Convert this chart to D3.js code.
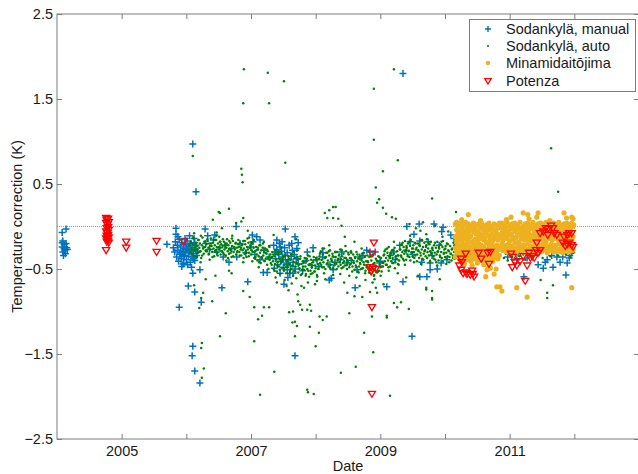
<!DOCTYPE html>
<html>
<head>
<meta charset="utf-8">
<script src="https://cdn.jsdelivr.net/npm/d3@7"></script>
<style>
  body { margin: 0; background: #fff; }
  text { font-family: "Liberation Sans", Arial, Helvetica, sans-serif; fill: #1a1a1a; }
</style>
</head>
<body>
<svg id="chart" width="638" height="474"></svg>
<script>
// Temperature corrections by site, [decimal year, correction (K)]

const sodankylaManual = [
  [2004.08,-0.07],[2004.14,-0.03],[2004.09,-0.17],[2004.11,-0.21],[2004.08,-0.24],[2004.15,-0.25],[2004.12,-0.28],
  [2004.09,-0.30],[2004.16,-0.27],[2004.13,-0.32],[2004.10,-0.34],[2004.14,-0.20],[2004.11,-0.26],[2004.08,-0.19],
  [2005.70,-0.21],[2005.84,-0.02],[2005.84,-0.09],
  [2005.80,-0.25],[2005.82,-0.30],[2005.83,-0.18],[2005.85,-0.36],[2005.86,-0.22],[2005.87,-0.28],[2005.88,-0.41],
  [2005.89,-0.15],[2005.90,-0.33],[2005.91,-0.24],[2005.92,-0.38],[2005.93,-0.19],[2005.94,-0.29],[2005.95,-0.44],
  [2005.96,-0.26],[2005.97,-0.34],[2005.98,-0.21],[2005.99,-0.31],[2006.00,-0.39],[2006.01,-0.17],[2006.02,-0.27],
  [2006.03,-0.35],[2006.04,-0.23],[2006.05,-0.30],[2006.06,-0.42],[2006.07,-0.20],[2006.08,-0.28],[2006.09,-0.36],
  [2006.10,-0.25],[2006.11,-0.32],[2006.12,-0.14],[2006.13,-0.40],[2006.14,-0.27],[2006.15,-0.22],[2006.16,-0.34],
  [2006.17,-0.29],[2005.87,-0.12],[2005.93,-0.47],[2006.02,-0.45],[2006.05,-0.11],[2005.98,-0.14],[2006.08,-0.48],
  [2005.91,-0.31],[2006.00,-0.26],[2005.95,-0.35],[2006.11,-0.38],[2006.13,-0.19],
  [2005.96,-0.43],[2006.10,-0.55],[2006.21,-0.51],[2006.13,-0.77],[2006.03,-0.70],[2006.23,-0.89],[2005.89,-0.95],
  [2006.55,-0.72],[2006.29,-0.03],[2006.33,-0.11],[2006.44,-0.10],[2006.52,-0.25],[2006.57,-0.36],[2006.66,-0.42],
  [2006.77,0.00],[2006.95,-0.65],[2007.02,-0.10],[2007.09,-0.12],[2007.03,-0.18],[2006.78,-0.36],[2007.14,-0.16],
  [2007.14,-0.39],[2007.19,-0.54],[2007.25,-0.54],[2007.40,-0.16],[2007.53,-0.03],[2007.45,-0.24],[2007.42,-0.31],
  [2007.49,-0.39],[2007.56,-0.51],[2007.51,-0.68],[2007.65,-0.55],[2007.68,-0.12],[2007.73,-0.19],
  [2007.68,-1.52],[2006.10,-1.41],[2006.09,-1.52],[2006.13,-1.70],[2006.21,-1.84],[2006.10,0.97],[2006.15,0.41],
  [2007.35,-0.22],[2007.37,-0.30],[2007.38,-0.38],[2007.40,-0.27],[2007.41,-0.45],[2007.43,-0.33],[2007.44,-0.20],
  [2007.46,-0.41],[2007.47,-0.29],[2007.49,-0.36],[2007.50,-0.48],[2007.52,-0.25],[2007.53,-0.34],[2007.55,-0.43],
  [2007.56,-0.31],[2007.58,-0.39],[2007.59,-0.22],[2007.61,-0.46],[2007.62,-0.35],[2007.64,-0.28],[2007.65,-0.42],
  [2007.67,-0.33],[2007.68,-0.50],[2007.70,-0.38],[2007.71,-0.26],[2007.73,-0.44],[2007.36,-0.49],[2007.45,-0.55],
  [2007.60,-0.55],[2007.48,-0.18],[2007.57,-0.60],[2007.63,-0.20],
  [2006.30,-0.20],[2006.36,-0.27],[2006.42,-0.16],[2006.47,-0.30],[2006.60,-0.22],[2006.70,-0.26],[2006.83,-0.20],
  [2006.92,-0.31],[2007.00,-0.24],[2007.06,-0.33],[2007.20,-0.28],[2007.28,-0.36],
  [2007.96,-0.25],[2008.02,-0.39],[2008.11,-0.36],[2007.94,-0.46],[2007.87,-0.30],[2008.21,-0.63],[2008.24,-0.61],
  [2008.22,-0.45],[2008.38,-0.39],[2008.48,-0.43],[2008.27,-0.51],[2008.11,-0.31],[2008.61,-0.72],[2008.64,-0.51],
  [2008.79,-0.28],[2008.84,-0.30],[2008.92,-0.30],[2008.99,-0.43],[2008.73,-0.34],[2009.10,-0.71],[2009.35,-0.65],
  [2009.41,0.00],[2009.60,0.03],[2009.52,-0.09],[2009.61,-0.17],[2009.46,-0.18],[2009.61,-0.59],
  [2009.88,-0.50],[2009.77,-0.43],[2009.23,-0.39],[2009.15,-0.34],[2009.35,1.80],[2009.49,-1.29],
  [2008.40,-0.30],[2008.55,-0.40],[2008.68,-0.36],[2009.00,-0.41],[2009.20,-0.30],[2009.30,-0.22],[2009.40,-0.28],
  [2009.50,-0.33],[2008.30,-0.42],[2008.05,-0.47],[2007.85,-0.40],[2007.80,-0.52],
  [2009.83,0.03],[2009.97,-0.01],[2009.95,-0.06],[2010.09,-0.10],[2010.14,-0.14],[2009.74,-0.18],[2009.91,-0.22],
  [2009.80,-0.34],[2009.64,-0.42],[2009.77,-0.51],[2009.72,-0.59],[2009.94,-0.43],[2010.03,-0.39],
  [2010.91,-0.06],[2010.90,-0.03],[2011.00,-0.28],[2010.97,-0.36],[2011.11,-0.39],[2011.13,-0.31],[2011.27,-0.37],
  [2011.22,-0.59],[2011.52,-0.49],[2011.58,-0.39],[2011.65,-0.34],[2011.73,-0.36],[2011.78,-0.42],[2011.89,-0.43],
  [2011.92,-0.37],[2011.96,-0.31],[2011.87,-0.57],[2011.67,-0.48],[2011.78,-0.28],[2011.82,-0.36],[2011.93,-0.34],
  [2011.96,-0.25],[2011.55,-0.42],[2011.44,-0.45]
];

const sodankylaAuto = [
  [2006.05,-0.22],[2006.06,-0.30],[2006.07,-0.18],[2006.08,-0.26],[2006.09,-0.33],[2006.10,-0.21],[2006.11,-0.14],
  [2006.12,-0.28],[2006.13,-0.24],[2006.14,-0.35],[2006.15,-0.19],[2006.16,-0.27],[2006.17,-0.23],[2006.18,-0.31],
  [2006.19,-0.16],[2006.20,-0.25],[2006.21,-0.20],[2006.22,-0.29],[2006.23,-0.37],[2006.24,-0.22],[2006.25,-0.13],
  [2006.26,-0.26],[2006.27,-0.32],[2006.28,-0.18],[2006.29,-0.24],[2006.30,-0.28],[2006.12,-0.08],[2006.22,-0.42],
  [2006.31,-0.21],[2006.32,-0.29],[2006.33,-0.17],[2006.34,-0.25],[2006.35,-0.32],[2006.36,-0.20],[2006.37,-0.27],
  [2006.38,-0.14],[2006.39,-0.23],[2006.40,-0.30],[2006.41,-0.19],[2006.42,-0.26],[2006.43,-0.35],[2006.44,-0.22],
  [2006.45,-0.28],[2006.46,-0.16],[2006.47,-0.24],[2006.48,-0.31],[2006.49,-0.20],[2006.50,-0.27],[2006.51,-0.12],
  [2006.52,-0.25],[2006.53,-0.33],[2006.54,-0.21],[2006.55,-0.29],[2006.36,-0.39],[2006.47,-0.07],[2006.52,-0.18],
  [2006.56,-0.23],[2006.57,-0.31],[2006.58,-0.18],[2006.59,-0.27],[2006.60,-0.21],[2006.61,-0.34],[2006.62,-0.25],
  [2006.63,-0.15],[2006.64,-0.29],[2006.65,-0.22],[2006.66,-0.32],[2006.67,-0.26],[2006.68,-0.19],[2006.69,-0.28],
  [2006.70,-0.36],[2006.71,-0.23],[2006.72,-0.17],[2006.73,-0.30],[2006.74,-0.24],[2006.75,-0.27],[2006.76,-0.20],
  [2006.77,-0.33],[2006.78,-0.25],[2006.79,-0.29],[2006.80,-0.21],[2006.62,-0.40],[2006.71,-0.11],[2006.66,-0.27],
  [2006.81,-0.24],[2006.82,-0.30],[2006.83,-0.19],[2006.84,-0.27],[2006.85,-0.34],[2006.86,-0.22],[2006.87,-0.28],
  [2006.88,-0.17],[2006.89,-0.26],[2006.90,-0.32],[2006.91,-0.21],[2006.92,-0.29],[2006.93,-0.36],[2006.94,-0.24],
  [2006.95,-0.27],[2006.96,-0.19],[2006.97,-0.31],[2006.98,-0.25],[2006.99,-0.22],[2007.00,-0.33],[2007.01,-0.28],
  [2007.02,-0.20],[2007.03,-0.30],[2007.04,-0.25],[2007.05,-0.37],[2006.88,-0.42],[2006.97,-0.13],[2007.02,-0.41],
  [2007.06,-0.29],[2007.07,-0.36],[2007.08,-0.24],[2007.09,-0.33],[2007.10,-0.40],[2007.11,-0.27],[2007.12,-0.35],
  [2007.13,-0.22],[2007.14,-0.31],[2007.15,-0.43],[2007.16,-0.28],[2007.17,-0.37],[2007.18,-0.25],[2007.19,-0.34],
  [2007.20,-0.30],[2007.21,-0.41],[2007.22,-0.26],[2007.23,-0.38],[2007.24,-0.32],[2007.25,-0.45],[2007.26,-0.29],
  [2007.27,-0.36],[2007.28,-0.23],[2007.29,-0.39],[2007.30,-0.33],[2007.12,-0.48],[2007.20,-0.18],[2007.27,-0.50],
  [2007.31,-0.37],[2007.32,-0.45],[2007.33,-0.30],[2007.34,-0.41],[2007.35,-0.50],[2007.36,-0.35],[2007.37,-0.44],
  [2007.38,-0.28],[2007.39,-0.39],[2007.40,-0.53],[2007.41,-0.42],[2007.42,-0.33],[2007.43,-0.47],[2007.44,-0.38],
  [2007.45,-0.56],[2007.46,-0.43],[2007.47,-0.31],[2007.48,-0.49],[2007.49,-0.40],[2007.50,-0.36],[2007.51,-0.52],
  [2007.52,-0.45],[2007.53,-0.34],[2007.54,-0.48],[2007.55,-0.41],[2007.38,-0.60],[2007.47,-0.25],[2007.52,-0.63],
  [2007.56,-0.40],[2007.57,-0.48],[2007.58,-0.35],[2007.59,-0.44],[2007.60,-0.55],[2007.61,-0.39],[2007.62,-0.50],
  [2007.63,-0.33],[2007.64,-0.46],[2007.65,-0.58],[2007.66,-0.42],[2007.67,-0.52],[2007.68,-0.37],[2007.69,-0.47],
  [2007.70,-0.61],[2007.71,-0.43],[2007.72,-0.36],[2007.73,-0.54],[2007.74,-0.45],[2007.75,-0.49],[2007.76,-0.38],
  [2007.77,-0.57],[2007.78,-0.44],[2007.79,-0.51],[2007.80,-0.41],[2007.63,-0.67],[2007.72,-0.28],[2007.78,-0.70],
  [2007.81,-0.43],[2007.82,-0.51],[2007.83,-0.37],[2007.84,-0.47],[2007.85,-0.56],[2007.86,-0.41],[2007.87,-0.50],
  [2007.88,-0.34],[2007.89,-0.45],[2007.90,-0.59],[2007.91,-0.44],[2007.92,-0.52],[2007.93,-0.39],[2007.94,-0.48],
  [2007.95,-0.55],[2007.96,-0.42],[2007.97,-0.36],[2007.98,-0.53],[2007.99,-0.46],[2008.00,-0.49],[2008.01,-0.40],
  [2008.02,-0.57],[2008.03,-0.44],[2008.04,-0.50],[2008.05,-0.38],[2007.88,-0.66],[2007.96,-0.29],[2008.02,-0.64],
  [2008.06,-0.35],[2008.07,-0.43],[2008.08,-0.29],[2008.09,-0.39],[2008.10,-0.48],[2008.11,-0.33],[2008.12,-0.42],
  [2008.13,-0.26],[2008.14,-0.37],[2008.15,-0.50],[2008.16,-0.36],[2008.17,-0.44],[2008.18,-0.31],[2008.19,-0.40],
  [2008.20,-0.47],[2008.21,-0.34],[2008.22,-0.28],[2008.23,-0.45],[2008.24,-0.38],[2008.25,-0.41],[2008.26,-0.32],
  [2008.27,-0.49],[2008.28,-0.36],[2008.29,-0.43],[2008.30,-0.30],[2008.13,-0.55],[2008.21,-0.22],[2008.27,-0.57],
  [2008.31,-0.36],[2008.32,-0.44],[2008.33,-0.30],[2008.34,-0.40],[2008.35,-0.47],[2008.36,-0.34],[2008.37,-0.42],
  [2008.38,-0.27],[2008.39,-0.38],[2008.40,-0.49],[2008.41,-0.35],[2008.42,-0.43],[2008.43,-0.32],[2008.44,-0.41],
  [2008.45,-0.46],[2008.46,-0.37],[2008.47,-0.29],[2008.48,-0.45],[2008.49,-0.39],[2008.50,-0.42],[2008.51,-0.33],
  [2008.52,-0.48],[2008.53,-0.37],[2008.54,-0.44],[2008.55,-0.31],[2008.38,-0.56],[2008.46,-0.23],[2008.52,-0.58],
  [2008.56,-0.39],[2008.57,-0.47],[2008.58,-0.33],[2008.59,-0.43],[2008.60,-0.51],[2008.61,-0.37],[2008.62,-0.46],
  [2008.63,-0.30],[2008.64,-0.41],[2008.65,-0.53],[2008.66,-0.38],[2008.67,-0.47],[2008.68,-0.35],[2008.69,-0.44],
  [2008.70,-0.50],[2008.71,-0.40],[2008.72,-0.32],[2008.73,-0.49],[2008.74,-0.42],[2008.75,-0.45],[2008.76,-0.36],
  [2008.77,-0.52],[2008.78,-0.41],[2008.79,-0.48],[2008.80,-0.34],[2008.63,-0.60],[2008.71,-0.26],[2008.77,-0.63],
  [2008.81,-0.42],[2008.82,-0.50],[2008.83,-0.36],[2008.84,-0.46],[2008.85,-0.55],[2008.86,-0.40],[2008.87,-0.49],
  [2008.88,-0.33],[2008.89,-0.44],[2008.90,-0.58],[2008.91,-0.43],[2008.92,-0.51],[2008.93,-0.38],[2008.94,-0.47],
  [2008.95,-0.54],[2008.96,-0.41],[2008.97,-0.35],[2008.98,-0.52],[2008.99,-0.45],[2009.00,-0.48],[2009.01,-0.37],
  [2009.02,-0.53],[2009.03,-0.42],[2009.04,-0.47],[2009.05,-0.34],[2008.88,-0.66],[2008.93,-0.72],[2008.91,-0.62],
  [2009.06,-0.33],[2009.07,-0.41],[2009.08,-0.27],[2009.09,-0.37],[2009.10,-0.45],[2009.11,-0.31],[2009.12,-0.40],
  [2009.13,-0.24],[2009.14,-0.35],[2009.15,-0.47],[2009.16,-0.33],[2009.17,-0.41],[2009.18,-0.28],[2009.19,-0.37],
  [2009.20,-0.43],[2009.21,-0.32],[2009.22,-0.25],[2009.23,-0.42],[2009.24,-0.35],[2009.25,-0.38],[2009.26,-0.29],
  [2009.27,-0.44],[2009.28,-0.34],[2009.29,-0.40],[2009.30,-0.27],[2009.13,-0.52],[2009.21,-0.18],[2009.27,-0.55],
  [2009.31,-0.27],[2009.32,-0.34],[2009.33,-0.21],[2009.34,-0.30],[2009.35,-0.38],[2009.36,-0.24],[2009.37,-0.32],
  [2009.38,-0.17],[2009.39,-0.28],[2009.40,-0.39],[2009.41,-0.25],[2009.42,-0.33],[2009.43,-0.20],[2009.44,-0.29],
  [2009.45,-0.36],[2009.46,-0.23],[2009.47,-0.16],[2009.48,-0.31],[2009.49,-0.26],[2009.50,-0.35],[2009.51,-0.22],
  [2009.52,-0.30],[2009.53,-0.19],[2009.54,-0.34],[2009.55,-0.27],[2009.38,-0.45],[2009.46,-0.11],[2009.52,-0.42],
  [2009.56,-0.25],[2009.57,-0.33],[2009.58,-0.20],[2009.59,-0.29],[2009.60,-0.37],[2009.61,-0.23],[2009.62,-0.31],
  [2009.63,-0.16],[2009.64,-0.27],[2009.65,-0.38],[2009.66,-0.24],[2009.67,-0.32],[2009.68,-0.19],[2009.69,-0.28],
  [2009.70,-0.35],[2009.71,-0.22],[2009.72,-0.15],[2009.73,-0.30],[2009.74,-0.26],[2009.75,-0.34],[2009.76,-0.21],
  [2009.77,-0.29],[2009.78,-0.18],[2009.79,-0.33],[2009.80,-0.26],[2009.63,-0.44],[2009.71,-0.09],[2009.77,-0.41],
  [2009.81,-0.28],[2009.82,-0.35],[2009.83,-0.22],[2009.84,-0.31],[2009.85,-0.39],[2009.86,-0.25],[2009.87,-0.33],
  [2009.88,-0.18],[2009.89,-0.29],[2009.90,-0.40],[2009.91,-0.26],[2009.92,-0.34],[2009.93,-0.21],[2009.94,-0.30],
  [2009.95,-0.37],[2009.96,-0.24],[2009.97,-0.17],[2009.98,-0.32],[2009.99,-0.27],[2010.00,-0.36],[2010.01,-0.23],
  [2010.02,-0.31],[2010.03,-0.20],[2010.04,-0.35],[2010.05,-0.28],[2009.88,-0.46],[2009.96,-0.12],[2010.02,-0.44],
  [2010.06,-0.29],[2010.07,-0.36],[2010.08,-0.23],[2010.09,-0.32],[2010.10,-0.40],[2010.11,-0.26],[2010.12,-0.34],
  [2010.13,-0.19],[2010.14,-0.30],[2010.15,-0.38],[2010.16,-0.27],[2010.17,-0.33],[2010.18,-0.22],[2010.19,-0.31],
  [2010.20,-0.37],[2010.21,-0.25],[2010.22,-0.30],[2010.23,-0.35],[2010.24,-0.28],[2010.25,-0.33],
  [2006.065,-0.19],[2006.085,-0.32],[2006.105,-0.13],[2006.125,-0.27],[2006.145,-0.22],[2006.165,-0.36],[2006.185,-0.16],
  [2006.205,-0.30],[2006.225,-0.11],[2006.245,-0.34],[2006.265,-0.24],[2006.285,-0.18],[2006.305,-0.29],[2006.325,-0.15],
  [2006.345,-0.33],[2006.365,-0.23],[2006.385,-0.20],[2006.405,-0.36],[2006.425,-0.16],[2006.445,-0.30],[2006.465,-0.11],
  [2006.485,-0.34],[2006.505,-0.24],[2006.525,-0.18],[2006.545,-0.29],[2006.565,-0.15],[2006.585,-0.33],[2006.605,-0.24],
  [2006.625,-0.20],[2006.645,-0.37],[2006.665,-0.17],[2006.685,-0.31],[2006.705,-0.14],[2006.725,-0.35],[2006.745,-0.25],
  [2006.765,-0.19],[2006.785,-0.30],[2006.805,-0.16],[2006.825,-0.34],[2006.845,-0.25],[2006.865,-0.21],[2006.885,-0.37],
  [2006.905,-0.17],[2006.925,-0.31],[2006.945,-0.14],[2006.965,-0.35],[2006.985,-0.25],[2007.005,-0.19],[2007.025,-0.30],
  [2007.045,-0.16],[2007.065,-0.38],[2007.085,-0.28],[2007.105,-0.25],[2007.125,-0.42],[2007.145,-0.22],[2007.165,-0.36],
  [2007.185,-0.20],[2007.205,-0.40],[2007.225,-0.31],[2007.245,-0.27],[2007.265,-0.38],[2007.285,-0.24],[2007.305,-0.43],
  [2007.325,-0.36],[2007.345,-0.33],[2007.365,-0.52],[2007.385,-0.32],[2007.405,-0.46],[2007.425,-0.30],[2007.445,-0.51],
  [2007.465,-0.41],[2007.485,-0.37],[2007.505,-0.49],[2007.525,-0.34],[2007.545,-0.55],[2007.565,-0.44],[2007.585,-0.38],
  [2007.605,-0.52],[2007.625,-0.33],[2007.645,-0.47],[2007.665,-0.30],[2007.685,-0.53],[2007.705,-0.43],[2007.725,-0.39],
  [2007.745,-0.50],[2007.765,-0.35],[2007.785,-0.56],[2007.805,-0.47],[2007.825,-0.42],[2007.845,-0.58],[2007.865,-0.38],
  [2007.885,-0.52],[2007.905,-0.35],[2007.925,-0.56],[2007.945,-0.46],[2007.965,-0.40],[2007.985,-0.53],[2008.005,-0.37],
  [2008.025,-0.59],[2008.045,-0.47],[2008.065,-0.32],[2008.085,-0.45],[2008.105,-0.26],[2008.125,-0.48],[2008.145,-0.37],
  [2008.165,-0.31],[2008.185,-0.43],[2008.205,-0.29],[2008.225,-0.49],[2008.245,-0.39],[2008.265,-0.35],[2008.285,-0.46],
  [2008.305,-0.30],[2008.325,-0.50],[2008.345,-0.38],[2008.365,-0.33],[2008.385,-0.45],[2008.405,-0.28],[2008.425,-0.48],
  [2008.445,-0.37],[2008.465,-0.37],[2008.485,-0.50],[2008.505,-0.31],[2008.525,-0.45],[2008.545,-0.29],[2008.565,-0.53],
  [2008.585,-0.42],[2008.605,-0.36],[2008.625,-0.48],[2008.645,-0.33],[2008.665,-0.54],[2008.685,-0.43],[2008.705,-0.38],
  [2008.725,-0.49],[2008.745,-0.31],[2008.765,-0.55],[2008.785,-0.46],[2008.805,-0.41],[2008.825,-0.54],[2008.845,-0.35],
  [2008.865,-0.51],[2008.885,-0.34],[2008.905,-0.57],[2008.925,-0.46],[2008.945,-0.40],[2008.965,-0.53],[2008.985,-0.36],
  [2009.005,-0.58],[2009.025,-0.47],[2009.045,-0.43],[2009.065,-0.29],[2009.085,-0.45],[2009.105,-0.26],[2009.125,-0.48],
  [2009.145,-0.37],[2009.165,-0.31],[2009.185,-0.43],[2009.205,-0.28],[2009.225,-0.49],[2009.245,-0.38],[2009.265,-0.34],
  [2009.285,-0.45],[2009.305,-0.22],[2009.325,-0.36],[2009.345,-0.19],[2009.365,-0.40],[2009.385,-0.29],[2009.405,-0.23],
  [2009.425,-0.35],[2009.445,-0.18],[2009.465,-0.40],[2009.485,-0.30],[2009.505,-0.26],[2009.525,-0.37],[2009.545,-0.20],
  [2009.565,-0.41],[2009.585,-0.28],[2009.605,-0.22],[2009.625,-0.34],[2009.645,-0.16],[2009.665,-0.39],[2009.685,-0.29],
  [2009.705,-0.24],[2009.725,-0.37],[2009.745,-0.19],[2009.765,-0.42],[2009.785,-0.31],[2009.805,-0.25],[2009.825,-0.38],
  [2009.845,-0.19],[2009.865,-0.42],[2009.885,-0.30],[2009.905,-0.24],[2009.925,-0.36],[2009.945,-0.18],[2009.965,-0.41],
  [2009.985,-0.31],[2010.005,-0.26],[2010.025,-0.38],[2010.045,-0.21],[2010.065,-0.42],[2010.085,-0.32],[2010.105,-0.27],
  [2010.125,-0.37],[2010.145,-0.22],[2010.165,-0.35],
  [2010.28,-0.31],[2010.31,-0.36],[2010.34,-0.28],[2010.37,-0.39],[2010.40,-0.33],[2010.43,-0.30],[2010.46,-0.37],
  [2010.49,-0.34],[2010.52,-0.29],[2010.55,-0.38],[2010.58,-0.32],[2010.61,-0.35],[2010.64,-0.30],[2010.67,-0.41],
  [2010.70,-0.33],[2010.73,-0.28],[2010.76,-0.36],[2010.79,-0.31],[2010.82,-0.39],[2010.85,-0.34],[2010.88,-0.29],
  [2010.91,-0.37],[2010.94,-0.32],[2010.97,-0.40],[2011.00,-0.33],[2011.02,-0.28],[2011.04,-0.36],[2011.06,-0.31],
  [2011.09,-0.38],[2011.12,-0.30],[2011.15,-0.35],[2011.18,-0.27],[2011.21,-0.33],[2011.24,-0.39],[2011.27,-0.30],
  [2011.30,-0.34],[2011.33,-0.28],[2011.36,-0.36],[2011.39,-0.31],[2011.42,-0.25],[2011.45,-0.33],[2011.48,-0.29],
  [2011.51,-0.37],[2011.54,-0.24],[2011.57,-0.31],[2011.60,-0.27],[2011.63,-0.35],[2011.66,-0.22],[2011.69,-0.30],
  [2011.72,-0.26],[2011.75,-0.34],[2011.78,-0.21],[2011.81,-0.29],[2011.84,-0.25],[2011.87,-0.33],[2011.90,-0.20],
  [2011.92,-0.28],[2011.94,-0.36],[2011.96,-0.24],[2011.98,-0.31],
  [2006.10,0.83],[2006.85,0.68],[2006.86,0.61],[2006.87,0.52],[2006.89,1.85],[2006.88,1.45],[2007.26,1.81],
  [2007.28,1.45],[2007.51,1.71],[2007.53,0.75],
  [2006.66,0.21],[2006.52,0.16],[2006.41,0.08],[2006.88,0.10],[2006.85,0.06],[2006.77,0.04],[2006.50,0.17],
  [2008.14,0.16],[2008.21,0.19],[2008.27,0.23],[2008.31,0.23],[2008.27,0.10],[2008.35,0.09],[2008.18,0.10],
  [2008.90,1.62],[2008.90,1.02],[2009.27,0.78],[2009.04,0.65],[2008.93,0.46],[2008.98,0.32],[2008.95,0.28],
  [2009.04,0.22],[2009.09,0.15],[2009.18,0.11],[2009.24,0.09],[2009.21,1.85],[2009.80,0.33],[2010.17,0.17],
  [2009.66,0.05],[2011.75,0.41],[2011.64,0.92],
  [2006.12,-0.69],[2006.26,-0.78],[2006.23,-0.84],[2006.20,-0.96],[2006.40,-0.88],[2006.61,-1.02],[2006.52,-1.29],
  [2006.24,-1.37],[2006.23,-1.43],[2006.27,-1.67],[2006.24,-1.78],[2007.05,-1.35],[2007.11,-1.09],[2007.17,-1.05],
  [2007.28,-0.95],[2007.14,-1.98],[2007.36,-1.71],[2007.65,-1.00],[2007.71,-1.17],[2007.68,-1.29],[2006.88,-0.76],
  [2006.66,-0.52],
  [2007.87,-1.92],[2007.88,-1.95],[2007.97,-1.97],[2008.39,-1.72],[2008.62,-1.65],[2008.89,-1.48],[2008.75,-1.25],
  [2009.15,-1.99],[2008.00,-1.41],[2008.05,-1.25],[2007.68,-1.12],[2007.93,-0.99],[2008.17,-1.06],[2008.52,-1.02],
  [2008.87,-1.06],[2009.10,-1.05],[2009.44,-0.97],[2009.21,-0.90],[2009.80,-0.84],[2009.71,-0.72],[2011.48,-0.63],
  [2011.67,-0.69],[2011.58,-0.78],[2011.58,-0.84],[2009.71,-0.74],[2009.80,-0.76],[2009.80,-0.86],
  [2006.98,-0.83],[2007.05,-0.95],[2007.20,-0.95],[2007.58,-0.75],[2007.72,-0.80],[2007.73,-0.88],[2007.76,-0.92],
  [2007.79,-0.98],[2007.87,-0.98],[2007.91,-0.92],[2007.59,-1.01],[2007.64,-1.13],[2007.91,-1.18],[2008.11,-1.10],
  [2008.06,-1.06],[2008.49,-0.78],[2008.60,-0.82],[2008.72,-0.83],[2008.84,-0.77],[2009.26,-0.95],[2009.10,-1.07],
  [2009.32,-0.89],
  [2007.40,-0.66],[2007.55,-0.70],[2007.82,-0.72],[2007.99,-0.68],[2008.15,-0.62],[2008.44,-0.66],[2008.68,-0.70],
  [2008.95,-0.78],[2009.05,-0.68],[2009.40,-0.60],[2009.58,-0.58],[2009.92,-0.62],[2006.70,-0.55],[2006.45,-0.58],
  [2006.30,-0.62],
  [2006.55,-0.02],[2006.95,-0.05],[2007.35,-0.10],[2007.70,-0.15],[2008.45,-0.12],[2008.60,-0.18],[2009.55,-0.02],
  [2009.85,0.01],[2010.05,-0.06],[2009.45,0.03],[2009.62,-0.05],[2008.40,0.01]
];

const minamidaitojima = [
  [2010.16,0.03],[2010.16,-0.12],[2010.16,-0.25],[2010.16,-0.36],
  [2010.18,-0.04],[2010.18,-0.18],[2010.18,-0.29],[2010.18,0.05],
  [2010.20,0.01],[2010.20,-0.09],[2010.20,-0.21],[2010.20,-0.33],
  [2010.22,-0.06],[2010.22,-0.15],[2010.22,-0.27],[2010.22,-0.38],
  [2010.24,0.04],[2010.24,-0.11],[2010.24,-0.23],[2010.24,-0.31],
  [2010.26,-0.02],[2010.26,-0.17],[2010.26,-0.30],[2010.26,-0.40],
  [2010.28,0.02],[2010.28,-0.08],[2010.28,-0.20],[2010.28,-0.34],
  [2010.30,-0.05],[2010.30,-0.14],[2010.30,-0.26],[2010.30,-0.37],
  [2010.32,0.05],[2010.32,-0.10],[2010.32,-0.22],[2010.32,-0.32],
  [2010.34,-0.01],[2010.34,-0.16],[2010.34,-0.28],[2010.34,-0.39],
  [2010.36,0.03],[2010.36,-0.07],[2010.36,-0.19],[2010.36,-0.35],
  [2010.38,-0.03],[2010.38,-0.13],[2010.38,-0.24],[2010.38,-0.30],
  [2010.40,0.01],[2010.40,-0.11],[2010.40,-0.27],[2010.40,-0.41],
  [2010.42,-0.04],[2010.42,-0.18],[2010.42,-0.29],[2010.42,-0.36],
  [2010.44,0.04],[2010.44,-0.06],[2010.44,-0.21],[2010.44,-0.33],
  [2010.46,-0.02],[2010.46,-0.15],[2010.46,-0.25],[2010.46,-0.38],
  [2010.48,0.02],[2010.48,-0.09],[2010.48,-0.23],[2010.48,-0.31],
  [2010.50,-0.05],[2010.50,-0.17],[2010.50,-0.28],[2010.50,-0.37],
  [2010.52,0.03],[2010.52,-0.12],[2010.52,-0.20],[2010.52,-0.34],
  [2010.54,-0.01],[2010.54,-0.08],[2010.54,-0.26],[2010.54,-0.39],
  [2010.56,0.05],[2010.56,-0.14],[2010.56,-0.22],[2010.56,-0.32],
  [2010.58,-0.03],[2010.58,-0.10],[2010.58,-0.29],[2010.58,-0.40],
  [2010.60,0.01],[2010.60,-0.16],[2010.60,-0.24],[2010.60,-0.35],
  [2010.62,-0.06],[2010.62,-0.13],[2010.62,-0.27],[2010.62,-0.38],
  [2010.64,0.02],[2010.64,-0.07],[2010.64,-0.19],[2010.64,-0.33],
  [2010.66,-0.02],[2010.66,-0.18],[2010.66,-0.30],[2010.66,-0.42],
  [2010.68,0.04],[2010.68,-0.11],[2010.68,-0.23],[2010.68,-0.36],
  [2010.70,-0.04],[2010.70,-0.15],[2010.70,-0.26],[2010.70,-0.39],
  [2010.72,0.00],[2010.72,-0.09],[2010.72,-0.21],[2010.72,-0.34],
  [2010.74,-0.03],[2010.74,-0.17],[2010.74,-0.28],[2010.74,-0.41],
  [2010.76,0.03],[2010.76,-0.12],[2010.76,-0.24],[2010.76,-0.37],
  [2010.78,-0.05],[2010.78,-0.14],[2010.78,-0.30],[2010.78,-0.35],
  [2010.80,0.01],[2010.80,-0.08],[2010.80,-0.22],[2010.80,-0.32],
  [2010.82,-0.02],[2010.82,-0.16],[2010.82,-0.27],[2010.82,-0.38],
  [2010.84,0.04],[2010.84,-0.10],[2010.84,-0.25],[2010.84,-0.34],
  [2010.86,-0.01],[2010.86,-0.13],[2010.86,-0.24],[2010.88,0.04],[2010.88,-0.08],[2010.88,-0.20],
  [2010.90,-0.04],[2010.90,-0.16],[2010.90,-0.28],[2010.92,0.02],[2010.92,-0.11],[2010.92,-0.22],
  [2010.94,-0.02],[2010.94,-0.07],[2010.94,-0.26],[2010.96,0.05],[2010.96,-0.14],[2010.96,-0.30],
  [2010.98,-0.05],[2010.98,-0.10],[2010.98,-0.21],[2011.00,0.01],[2011.00,-0.17],[2011.00,-0.25],
  [2011.02,-0.03],[2011.02,-0.09],[2011.02,-0.29],[2011.04,0.03],[2011.04,-0.12],[2011.04,-0.23],
  [2011.06,-0.01],[2011.06,-0.15],[2011.06,-0.27],[2011.08,0.04],[2011.08,-0.06],[2011.08,-0.19],
  [2011.10,-0.04],[2011.10,-0.13],[2011.10,-0.31],[2011.12,0.02],[2011.12,-0.10],[2011.12,-0.24],
  [2011.14,-0.02],[2011.14,-0.18],[2011.14,-0.28],[2011.16,0.05],[2011.16,-0.08],[2011.16,-0.21],
  [2011.18,-0.05],[2011.18,-0.14],[2011.18,-0.26],[2011.20,0.00],[2011.20,-0.11],[2011.20,-0.30],
  [2011.22,-0.03],[2011.22,-0.16],[2011.22,-0.22],[2011.24,0.03],[2011.24,-0.07],[2011.24,-0.25],
  [2011.26,-0.01],[2011.26,-0.12],[2011.26,-0.29],[2011.28,0.04],[2011.28,-0.15],[2011.28,-0.20],
  [2011.30,-0.04],[2011.30,-0.09],[2011.30,-0.27],[2011.32,0.02],[2011.32,-0.13],[2011.32,-0.23],
  [2011.34,-0.02],[2011.34,-0.17],[2011.34,-0.31],[2011.36,0.05],[2011.36,-0.10],[2011.36,-0.24],
  [2011.38,-0.05],[2011.38,-0.08],[2011.38,-0.28],[2011.40,0.01],[2011.40,-0.14],[2011.40,-0.21],
  [2011.42,-0.03],[2011.42,-0.11],[2011.42,-0.26],[2011.44,0.03],[2011.44,-0.16],[2011.44,-0.30],
  [2011.46,-0.01],[2011.46,-0.07],[2011.46,-0.22],[2011.48,0.04],[2011.48,-0.12],[2011.48,-0.25],
  [2011.50,-0.04],[2011.50,-0.15],[2011.50,-0.29],[2011.52,0.02],[2011.52,-0.09],[2011.52,-0.20],
  [2011.54,-0.02],[2011.54,-0.13],[2011.54,-0.27],[2011.56,0.05],[2011.56,-0.18],[2011.56,-0.23],
  [2011.58,-0.05],[2011.58,-0.10],[2011.58,-0.31],[2011.60,0.00],[2011.60,-0.14],[2011.60,-0.24],
  [2011.62,-0.03],[2011.62,-0.08],[2011.62,-0.28],[2011.64,0.03],[2011.64,-0.12],[2011.64,-0.21],
  [2011.66,-0.01],[2011.66,-0.16],[2011.66,-0.26],[2011.68,0.04],[2011.68,-0.09],[2011.68,-0.30],
  [2011.70,-0.04],[2011.70,-0.13],[2011.70,-0.22],[2011.72,0.02],[2011.72,-0.11],[2011.72,-0.25],
  [2011.74,-0.02],[2011.74,-0.15],[2011.74,-0.29],[2011.76,0.05],[2011.76,-0.07],[2011.76,-0.20],
  [2011.78,-0.05],[2011.78,-0.14],[2011.78,-0.27],[2011.80,0.01],[2011.80,-0.10],[2011.80,-0.23],
  [2011.82,-0.03],[2011.82,-0.17],[2011.82,-0.31],[2011.84,0.03],[2011.84,-0.12],[2011.84,-0.24],
  [2011.86,-0.01],[2011.86,-0.08],[2011.86,-0.28],[2011.88,0.04],[2011.88,-0.15],[2011.88,-0.21],
  [2011.90,-0.04],[2011.90,-0.11],[2011.90,-0.26],[2011.92,0.02],[2011.92,-0.13],[2011.92,-0.30],
  [2011.94,-0.02],[2011.94,-0.09],[2011.94,-0.22],[2011.96,0.04],[2011.96,-0.16],[2011.96,-0.25],
  [2011.98,0.00],[2011.98,-0.12],[2011.98,-0.28],
  [2010.36,0.14],[2011.21,0.16],[2011.28,0.14],[2011.42,0.11],[2011.44,0.16],[2011.84,0.16],[2011.96,0.11],
  [2011.98,0.09],[2011.02,0.11],[2010.63,-0.59],[2010.65,-0.51],[2010.80,-0.71],[2010.85,-0.71],[2010.88,-0.76],
  [2011.11,-0.72],[2011.27,-0.83],[2011.96,-0.72],[2010.76,-0.56],[2010.79,-0.50],[2010.70,-0.49],[2011.99,0.02],
  [2010.26,0.08],[2010.55,0.07],[2010.95,0.08],[2011.30,0.09],[2011.62,0.07],[2011.88,0.10],
  [2010.30,-0.44],[2010.42,-0.46],[2010.50,-0.43],[2010.60,-0.45],[2010.68,-0.47]
];

const potenza = [
  [2004.76,0.10],[2004.79,0.09],[2004.77,0.07],[2004.80,0.05],[2004.76,0.04],[2004.78,0.02],[2004.79,-0.01],
  [2004.77,-0.02],[2004.80,-0.04],[2004.76,-0.06],[2004.78,-0.08],[2004.79,-0.10],[2004.77,-0.11],[2004.80,-0.13],
  [2004.76,-0.14],[2004.78,-0.15],[2004.79,-0.17],[2004.77,-0.18],[2004.80,-0.19],[2004.78,-0.12],[2004.76,-0.28],
  [2005.07,-0.18],[2005.07,-0.25],[2005.54,-0.17],[2005.54,-0.30],[2005.96,-0.18],
  [2008.90,-0.19],[2008.87,-0.32],[2008.84,-0.48],[2008.88,-0.50],[2008.93,-0.50],[2008.86,-0.53],[2008.87,-0.95],
  [2008.87,-1.97],
  [2010.25,-0.38],[2010.26,-0.42],[2010.22,-0.46],[2010.25,-0.51],[2010.28,-0.55],[2010.32,-0.54],[2010.34,-0.56],
  [2010.39,-0.57],[2010.42,-0.52],[2010.43,-0.56],[2010.45,-0.59],[2010.32,-0.32],[2010.52,-0.31],[2010.56,-0.38],
  [2010.66,-0.31],[2010.70,-0.30],[2010.68,-0.44],[2011.02,-0.32],[2011.05,-0.36],[2011.04,-0.48],[2011.08,-0.42],
  [2011.11,-0.46],[2011.16,-0.41],[2011.24,-0.64],[2011.27,-0.46],[2011.21,-0.35],[2011.30,-0.31],[2011.35,-0.35],
  [2011.38,-0.37],[2011.41,-0.28],[2011.42,-0.19],[2011.47,-0.08],[2011.52,-0.06],[2011.56,-0.02],[2011.59,-0.03],
  [2011.64,0.01],[2011.67,-0.02],[2011.69,-0.08],[2011.73,-0.10],[2011.59,-0.10],[2011.84,-0.12],[2011.89,-0.10],
  [2011.92,-0.08],[2011.96,-0.08],[2011.82,-0.19],[2011.89,-0.21],[2011.92,-0.19],[2011.96,-0.22],[2011.98,-0.24],
  [2011.86,-0.23],[2011.44,-0.31],[2011.32,-0.37],[2011.47,-0.28]
];

const seriesNames = ["Sodankylä, manual", "Sodankylä, auto", "Minamidaitōjima", "Potenza"];
const yearTicks = [2005, 2006, 2007, 2008, 2009, 2010, 2011, 2012];
const yearLabels = [2005, 2007, 2009, 2011];
const valueTicks = [-2.5, -1.5, -0.5, 0.5, 1.5, 2.5];

const colors = { manual: "#0072BD", auto: "#007f00", minami: "#EDB120", potenza: "#ff0000" };

const svg = d3.select("#chart");
svg.append("rect").attr("width", 638).attr("height", 474).attr("fill", "#fff");

const plot = { left: 57, right: 639, top: 14, bottom: 439 };
const x = d3.scaleLinear().domain([2004, 2013]).range([plot.left, plot.right]);
const y = d3.scaleLinear().domain([-2.5, 2.5]).range([plot.bottom, plot.top]);

const axisColor = "#7d7d7d";
const fontSize = "14.5px";

// reference line at zero correction
svg.append("line")
  .attr("x1", plot.left).attr("x2", plot.right)
  .attr("y1", y(0)).attr("y2", y(0))
  .attr("stroke", "#9a9a9a").attr("stroke-width", 1).attr("stroke-dasharray", "1,1");

// data layers
const pts = svg.append("g");

pts.append("g").selectAll("path").data(sodankylaManual).join("path")
  .attr("transform", d => `translate(${x(d[0])},${y(d[1])})`)
  .attr("d", "M-3.5,0H3.5M0,-3.5V3.5")
  .attr("stroke", colors.manual).attr("stroke-width", 1.5).attr("fill", "none");

pts.append("g").selectAll("circle").data(sodankylaAuto).join("circle")
  .attr("cx", d => x(d[0])).attr("cy", d => y(d[1])).attr("r", 1.25)
  .attr("fill", colors.auto);

pts.append("g").selectAll("circle").data(minamidaitojima).join("circle")
  .attr("cx", d => x(d[0])).attr("cy", d => y(d[1])).attr("r", 2.6)
  .attr("fill", colors.minami);

pts.append("g").selectAll("path").data(potenza).join("path")
  .attr("transform", d => `translate(${x(d[0])},${y(d[1])})`)
  .attr("d", "M-3.6,-2.6L3.6,-2.6L0,3.4Z")
  .attr("stroke", colors.potenza).attr("stroke-width", 1.3).attr("fill", "none");

// axes (ticks point inward, box drawn around the plot)
function styleAxis(g) {
  g.select(".domain").remove();
  g.selectAll(".tick line").attr("stroke", axisColor);
  g.selectAll(".tick text").style("font-size", fontSize).attr("fill", "#1a1a1a");
}

svg.append("g").attr("transform", `translate(0,${plot.bottom})`)
  .call(d3.axisBottom(x).tickValues(yearTicks).tickSize(-5).tickPadding(7)
    .tickFormat(d => yearLabels.includes(d) ? String(d) : ""))
  .call(styleAxis);

svg.append("g").attr("transform", `translate(0,${plot.top})`)
  .call(d3.axisTop(x).tickValues(yearTicks).tickSize(-5).tickFormat(""))
  .call(styleAxis);

svg.append("g").attr("transform", `translate(${plot.left},0)`)
  .call(d3.axisLeft(y).tickValues(valueTicks).tickSize(-5).tickPadding(4)
    .tickFormat(d3.format(".1f")))
  .call(styleAxis);

svg.append("g").attr("transform", `translate(${plot.right},0)`)
  .call(d3.axisRight(y).tickValues(valueTicks).tickSize(-5).tickFormat(""))
  .call(styleAxis);

svg.append("rect")
  .attr("x", plot.left).attr("y", plot.top)
  .attr("width", plot.right - plot.left).attr("height", plot.bottom - plot.top)
  .attr("fill", "none").attr("stroke", axisColor).attr("stroke-width", 1);

// axis titles
svg.append("text")
  .attr("transform", `translate(22,${(plot.top + plot.bottom) / 2}) rotate(-90)`)
  .attr("text-anchor", "middle").style("font-size", fontSize)
  .text("Temperature correction (K)");

svg.append("text")
  .attr("x", (plot.left + plot.right) / 2).attr("y", 471)
  .attr("text-anchor", "middle").style("font-size", fontSize)
  .text("Date");

// legend
const legend = svg.append("g");
legend.append("rect")
  .attr("x", 469.5).attr("y", 19.5).attr("width", 166).attr("height", 72)
  .attr("fill", "#fff").attr("stroke", axisColor).attr("stroke-width", 1);

const legendRows = [29, 46, 63, 81];
const markerX = 488;
const rows = legend.selectAll("g.row").data(seriesNames).join("g")
  .attr("class", "row")
  .attr("transform", (d, i) => `translate(0,${legendRows[i]})`);

rows.append("text")
  .attr("x", 506).attr("dy", "0.36em").style("font-size", fontSize)
  .text(d => d);

rows.each(function (d, i) {
  const g = d3.select(this);
  if (i === 0) {
    g.append("path").attr("d", `M${markerX - 3},0H${markerX + 3}M${markerX},-3V3`)
      .attr("stroke", colors.manual).attr("stroke-width", 1.4);
  } else if (i === 1) {
    g.append("circle").attr("cx", markerX).attr("cy", 0).attr("r", 1.1).attr("fill", colors.auto);
  } else if (i === 2) {
    g.append("circle").attr("cx", markerX).attr("cy", 0).attr("r", 2.2).attr("fill", colors.minami);
  } else {
    g.append("path").attr("transform", `translate(${markerX},0)`)
      .attr("d", "M-3.3,-2.4L3.3,-2.4L0,3.1Z")
      .attr("stroke", colors.potenza).attr("stroke-width", 1.3).attr("fill", "none");
  }
});
</script>
</body>
</html>
